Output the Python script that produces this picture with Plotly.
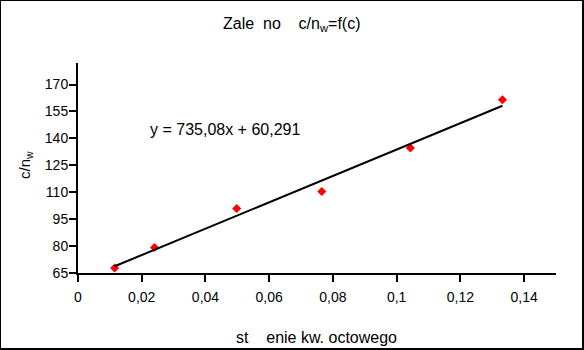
import plotly.graph_objects as go

# Measured points: acetic acid concentration vs c/n_w
conc = [0.0115, 0.0240, 0.0498, 0.0765, 0.1043, 0.1332]
c_nw = [67.8, 79.2, 100.9, 110.4, 134.7, 161.5]

# Linear trendline coefficients
slope = 735.08
intercept = 60.291

x_tickvals = [0, 0.02, 0.04, 0.06, 0.08, 0.10, 0.12, 0.14]
x_ticktext = ["0", "0,02", "0,04", "0,06", "0,08", "0,1", "0,12", "0,14"]
y_tickvals = [65, 80, 95, 110, 125, 140, 155, 170]

W, H = 584, 350
L, R, T, B = 78, 28, 63, 77
PW, PH = W - L - R, H - T - B


def px_x(px):
    return (px - L) / PW


def px_y(py):
    return (H - B - py) / PH


FONT = "Liberation Sans, Arial, sans-serif"

trend_x = [conc[0], conc[-1]]
trend_y = [slope * v + intercept for v in trend_x]

fig = go.Figure()
fig.add_trace(go.Scatter(
    x=conc, y=c_nw, mode="markers",
    marker=dict(symbol="diamond", size=7, color="#ff0000", line=dict(width=0)),
    showlegend=False,
))
fig.add_trace(go.Scatter(
    x=trend_x, y=trend_y, mode="lines",
    line=dict(color="black", width=2),
    showlegend=False,
))

axis_common = dict(
    showgrid=False, zeroline=False, showline=True, linecolor="black", linewidth=2,
    ticks="outside", ticklen=7, tickwidth=2, tickcolor="black",
    tickfont=dict(family=FONT, size=14, color="black"),
    mirror=False,
)

fig.update_xaxes(range=[0, 0.15], tickmode="array", tickvals=x_tickvals,
                 ticktext=x_ticktext, ticklabelstandoff=3, **axis_common)
fig.update_yaxes(range=[65, 182], tickmode="array", tickvals=y_tickvals,
                 ticklabelstandoff=-2, **axis_common)

nb = "\u00a0"
fig.update_layout(
    width=W, height=H,
    margin=dict(l=L, r=R, t=T, b=B),
    paper_bgcolor="white", plot_bgcolor="white",
    font=dict(family=FONT, size=14, color="black"),
    annotations=[
        dict(text=f"Zale{nb}{nb}no{nb}{nb}{nb}{nb}c/n<sub>w</sub>=f(c)",
             xref="paper", yref="paper", x=px_x(291.5), y=px_y(25),
             xanchor="center", yanchor="middle", showarrow=False,
             font=dict(size=16)),
        dict(text=f"st{nb}{nb}{nb}{nb}enie kw. octowego",
             xref="paper", yref="paper", x=px_x(316.5), y=px_y(337),
             xanchor="center", yanchor="middle", showarrow=False,
             font=dict(size=16)),
        dict(text="c/n<sub>w</sub>", textangle=-90,
             xref="paper", yref="paper", x=px_x(25), y=px_y(165),
             xanchor="center", yanchor="middle", showarrow=False,
             font=dict(size=15)),
        dict(text=f"y = {slope:.2f}x + {intercept:.3f}".replace(".", ","),
             xref="paper", yref="paper", x=px_x(148), y=px_y(129),
             xanchor="left", yanchor="middle", showarrow=False,
             font=dict(size=16)),
    ],
    shapes=[
        dict(type="rect", xref="paper", yref="paper",
             x0=px_x(0), x1=px_x(583), y0=px_y(349), y1=px_y(0),
             line=dict(color="black", width=2), layer="above"),
    ],
)

fig.write_html("out.html")
